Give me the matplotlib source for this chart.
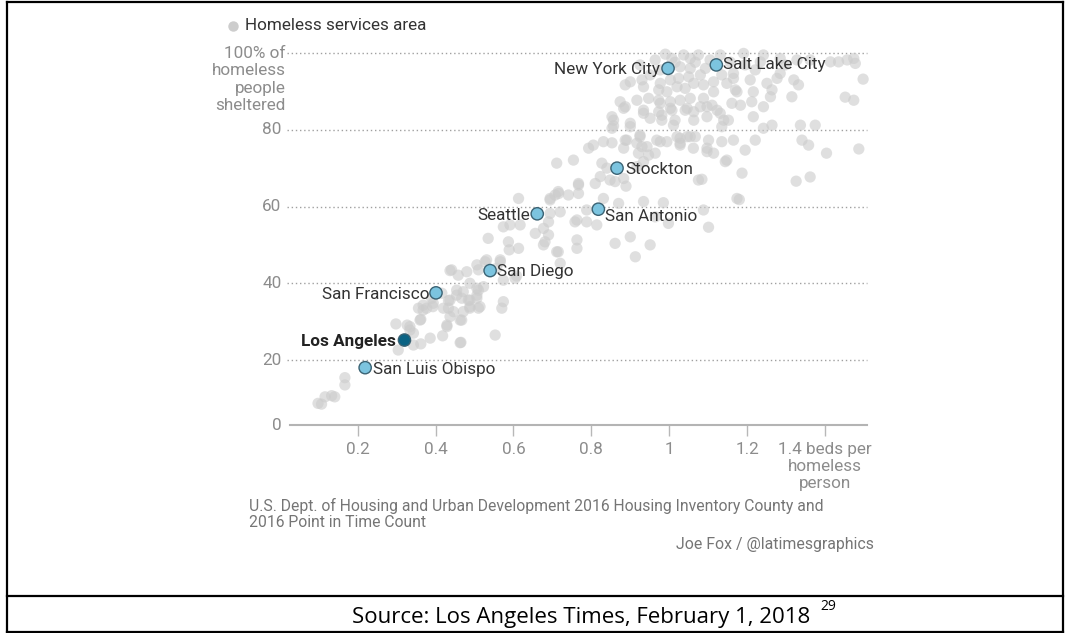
import numpy as np
import matplotlib.pyplot as plt
from matplotlib.lines import Line2D

plt.rcParams['font.family'] = ['Roboto', 'DejaVu Sans']

# beds per homeless person / % of homeless people sheltered, one pair per services area
area_beds = [
    0.098, 0.107, 0.116, 0.133, 0.141, 0.167, 0.167, 0.298, 0.327, 0.334, 0.343, 0.304, 0.343, 0.362,
    0.386, 0.418, 0.465, 0.362, 0.356, 0.368, 0.393, 0.390, 0.433, 0.454, 0.437, 0.446, 0.471, 0.467,
    0.488, 0.429, 0.488, 0.506, 0.416,
    0.437, 0.458, 0.480, 0.510, 0.527, 0.566, 0.557, 0.608, 0.523, 0.510, 0.488, 0.471, 0.484, 0.506,
    0.510, 0.463, 0.574, 0.570, 0.553, 0.463, 0.334, 0.360, 0.368, 0.394, 0.420, 0.429,
    0.613, 0.694, 0.707, 0.715, 0.741, 0.767, 0.767, 0.810, 0.694, 0.690, 0.720, 0.677, 0.656, 0.690,
    0.681, 0.677, 0.758, 0.788, 0.763, 0.763, 0.711, 0.720, 0.617, 0.591, 0.574, 0.535, 0.587, 0.589,
    0.613, 0.566, 0.531, 0.506, 0.441, 0.604, 0.574, 0.506, 0.454, 0.437, 0.467, 0.488, 0.514, 0.433,
    0.377,
    0.793, 0.805, 0.831, 0.853, 0.887, 0.883, 0.917, 0.925, 0.943, 0.947, 0.964, 0.977, 0.994, 1.028,
    1.046, 1.067, 1.062, 1.097, 1.114, 1.135, 1.144, 1.075, 1.084, 1.174, 0.754, 0.711, 0.827, 0.840,
    0.823, 0.848, 0.861, 0.883, 0.889, 0.917, 0.934, 0.767, 0.716, 0.694, 0.788, 0.831, 0.870, 0.934,
    0.985, 0.998, 0.964, 1.088, 1.101, 0.900, 0.951, 0.861, 0.913, 0.763, 0.715, 0.814,
    0.853, 0.857, 0.887, 0.900, 0.934, 0.951, 0.977, 0.981, 1.003, 1.011, 1.046, 1.063, 1.097, 1.123,
    1.140, 1.161, 0.891, 0.930, 1.020, 1.028, 1.054, 1.097, 1.148, 0.921,
    0.990, 1.007, 1.037, 1.054, 1.075, 1.028, 1.054, 1.093, 1.080, 1.050, 1.024, 1.003, 0.977, 0.930,
    0.900, 0.887, 0.934, 0.973, 0.994, 1.020, 1.041, 1.063, 1.088, 1.114, 1.135, 1.148, 1.170, 1.165,
    1.114, 1.088, 1.054, 1.028, 1.003, 0.973, 0.947, 0.917, 0.874, 0.883, 0.934, 0.973, 1.007, 1.041,
    1.080, 1.110, 1.131, 1.152, 1.097, 1.063, 1.015, 0.981, 0.857, 0.853, 0.900, 0.925, 0.968, 1.028,
    1.101, 1.135, 1.165, 1.015, 1.067, 0.977, 0.951, 0.925, 1.105, 1.131, 1.157, 0.964,
    1.191, 1.242, 1.285, 1.328, 1.362, 1.414, 1.435, 1.457, 1.474, 1.478, 1.498, 1.452, 1.474, 1.165,
    1.174, 1.216, 1.212, 1.183, 1.251, 1.264, 1.260, 1.242, 1.277, 1.285, 1.320, 1.332, 1.315, 1.216,
    1.264, 1.242, 1.337, 1.375, 1.221, 1.195, 1.341, 1.358, 1.404, 1.487, 1.187, 1.195, 1.221, 1.234,
    1.298, 1.208, 1.326, 1.362, 1.180,
]
area_sheltered = [
    8.7, 8.5, 10.4, 10.7, 10.4, 13.5, 15.4, 29.4, 29.1, 27.8, 27.0, 22.6, 23.9, 24.2,
    25.7, 26.3, 24.6, 30.6, 33.5, 34.3, 33.9, 36.1, 35.5, 36.9, 31.3, 32.6, 32.6, 30.4,
    33.5, 29.1, 35.6, 36.9, 37.4,
    43.3, 42.1, 43.0, 43.5, 45.6, 45.6, 43.9, 41.9, 39.1, 38.2, 40.0, 37.8, 35.6, 36.1,
    33.5, 30.4, 35.2, 33.5, 26.5, 24.5, 28.7, 30.4, 33.0, 34.8, 33.5, 28.7,
    62.1, 62.1, 63.0, 63.9, 63.0, 65.6, 63.4, 66.0, 58.2, 56.0, 58.6, 54.3, 53.0, 52.6,
    50.8, 50.0, 56.0, 56.0, 51.3, 49.1, 48.2, 45.2, 55.2, 55.2, 54.7, 51.7, 50.8, 48.7,
    49.1, 46.1, 46.1, 44.8, 43.5, 41.3, 40.8, 38.7, 38.2, 35.6, 36.1, 33.9, 33.9, 33.5,
    33.5,
    75.2, 76.0, 76.9, 76.6, 77.3, 75.2, 76.5, 78.6, 75.6, 73.4, 73.9, 76.9, 76.9, 76.0,
    78.2, 78.2, 75.2, 75.2, 73.9, 76.9, 71.7, 66.9, 67.1, 62.1, 72.1, 71.3, 71.3, 70.0,
    67.8, 66.9, 66.5, 67.3, 65.3, 70.4, 71.7, 66.0, 63.4, 61.7, 59.1, 62.1, 60.8, 61.3,
    61.0, 55.6, 57.3, 59.1, 54.6, 52.1, 50.0, 50.4, 46.9, 56.5, 48.2, 55.2,
    83.4, 81.0, 86.0, 81.7, 84.3, 83.0, 86.9, 83.8, 85.6, 81.2, 85.6, 84.7, 86.0, 85.1,
    82.5, 86.9, 77.3, 75.6, 78.2, 76.5, 78.2, 74.3, 72.1, 73.9,
    99.7, 98.6, 99.5, 98.6, 99.5, 96.4, 96.0, 96.0, 94.3, 93.8, 93.4, 93.0, 92.1, 93.0,
    92.5, 91.7, 91.2, 90.4, 89.9, 91.2, 90.8, 92.1, 91.7, 92.5, 94.3, 92.1, 90.4, 93.4,
    89.9, 88.2, 88.2, 87.7, 87.3, 87.7, 88.2, 87.7, 87.3, 85.6, 85.1, 84.7, 85.1, 85.1,
    86.0, 86.4, 84.3, 82.5, 83.4, 82.5, 82.5, 82.5, 82.5, 80.4, 80.8, 78.2, 77.3, 77.8,
    77.3, 80.8, 77.3, 97.6, 97.6, 95.6, 94.3, 96.9, 98.2, 99.5, 97.6, 98.2,
    99.9, 99.5, 98.6, 98.2, 98.2, 97.7, 97.7, 98.2, 98.6, 97.3, 93.2, 88.5, 87.7, 94.7,
    89.9, 89.9, 87.3, 86.4, 92.1, 90.4, 88.6, 86.0, 93.4, 94.7, 93.0, 91.7, 88.6, 83.4,
    81.2, 80.4, 81.2, 81.2, 77.3, 74.7, 77.3, 76.0, 73.9, 75.0, 68.7, 96.9, 95.6, 97.7,
    96.9, 93.0, 66.6, 67.7, 61.8,
]

city_names = ['New York City', 'Salt Lake City', 'Stockton', 'San Antonio', 'Seattle',
              'San Diego', 'San Francisco', 'Los Angeles', 'San Luis Obispo']
city_beds = [0.997, 1.121, 0.866, 0.818, 0.661, 0.540, 0.401, 0.320, 0.219]
city_sheltered = [96.0, 96.9, 70.0, 59.3, 58.1, 43.3, 37.5, 25.2, 18.0]

x_ticks = [0.2, 0.4, 0.6, 0.8, 1.0, 1.2, 1.4]
x_labels = ['0.2', '0.4', '0.6', '0.8', '1', '1.2', '1.4 beds per\nhomeless\nperson']
y_ticks = [20, 40, 60, 80]

W, H = 1065, 633
fig = plt.figure(figsize=(W / 100, H / 100), dpi=100)


def fx(px):
    return px / W


def fy(py):
    return 1 - py / H


FS = 12.3
GREY_TXT = '#8c8c8c'

ax = fig.add_axes([fx(290), fy(425), (867 - 290) / W, (425 - 49.2) / H])
ax.set_xlim(0.026, 1.508)
ax.set_ylim(3.06, 101)

for s in ['top', 'right', 'left']:
    ax.spines[s].set_visible(False)
ax.spines['bottom'].set_color('#b4b4b4')
ax.spines['bottom'].set_linewidth(1.5)

for v in y_ticks + [100]:
    ax.axhline(v, xmin=-0.006, color='#a0a0a0', lw=1, ls=(0, (1, 2)), zorder=1, clip_on=False)

ax.set_xticks(x_ticks)
ax.set_xticklabels(x_labels)
ax.tick_params(axis='x', direction='out', length=8, width=1, color='#b8b8b8',
               labelcolor=GREY_TXT, labelsize=FS, pad=4)
for lab in ax.get_xticklabels():
    lab.set_linespacing(1.17)
ax.set_yticks([])

ytr = ax.get_yaxis_transform()
for v in y_ticks:
    ax.text(-0.015, v, str(v), transform=ytr, ha='right', va='center', color=GREY_TXT, fontsize=FS)
ax.text(-0.015, 0, '0', transform=ax.transAxes, ha='right', va='center', color=GREY_TXT, fontsize=FS)
ax.annotate('100% of\nhomeless\npeople\nsheltered', xy=(-0.008, 100), xycoords=ytr,
            xytext=(0, 7), textcoords='offset pixels', ha='right', va='top',
            color=GREY_TXT, fontsize=FS, linespacing=1.2)

ax.scatter(area_beds, area_sheltered, s=66, color='#cbcbcb', alpha=0.6,
           edgecolors='none', clip_on=False, zorder=2)

fills = ['#0b6384' if n == 'Los Angeles' else '#7cc4df' for n in city_names]
ax.scatter(city_beds, city_sheltered, s=78, c=fills, edgecolors='#3b6374',
           linewidths=1, zorder=4, clip_on=False)

offsets = {
    'New York City': (-8, -1, 'right'),
    'Salt Lake City': (7, 0, 'left'),
    'Stockton': (8, -1, 'left'),
    'San Antonio': (7, -7, 'left'),
    'Seattle': (-7, -2, 'right'),
    'San Diego': (7, -1, 'left'),
    'San Francisco': (-7, -2, 'right'),
    'Los Angeles': (-9, -1, 'right'),
    'San Luis Obispo': (8, -2, 'left'),
}
for n, bx, sy in zip(city_names, city_beds, city_sheltered):
    dx, dy, ha = offsets[n]
    bold = n == 'Los Angeles'
    ax.annotate(n, (bx, sy), xytext=(dx, dy), textcoords='offset pixels', ha=ha, va='center',
                fontsize=FS, color='#222222' if bold else '#333333',
                fontweight='bold' if bold else 'normal', zorder=5)

# legend
fig.add_artist(Line2D([fx(233)], [fy(26)], marker='o', ms=6.5, color='#cdcdcd',
                      transform=fig.transFigure))
fig.text(fx(245), fy(26), 'Homeless services area', va='center', ha='left',
         color='#333333', fontsize=FS)

# notes
fig.text(fx(249), fy(498), 'U.S. Dept. of Housing and Urban Development 2016 Housing Inventory County and\n'
         '2016 Point in Time Count', va='top', ha='left', color='#757575', fontsize=11.3,
         linespacing=1.12)
fig.text(fx(874), fy(544), 'Joe Fox / @latimesgraphics', va='center', ha='right',
         color='#757575', fontsize=11.4)

# outer frame of the page
for xs, ys in [([7, 1063], [2, 2]), ([7, 1063], [596, 596]), ([7, 1063], [632, 632]),
               ([7, 7], [2, 632]), ([1063, 1063], [2, 632])]:
    fig.add_artist(Line2D([fx(x) for x in xs], [fy(y) for y in ys], color='black', lw=1.6,
                          transform=fig.transFigure))

fig.text(fx(352), fy(618), 'Source: Los Angeles Times, February 1, 2018', va='center', ha='left',
         family=['Open Sans', 'DejaVu Sans'], fontsize=16, color='black')
fig.text(fx(820), fy(607), '29', va='center', ha='left', family=['Open Sans', 'DejaVu Sans'],
         fontsize=10, color='black')

fig.savefig('out.png', dpi=100)
